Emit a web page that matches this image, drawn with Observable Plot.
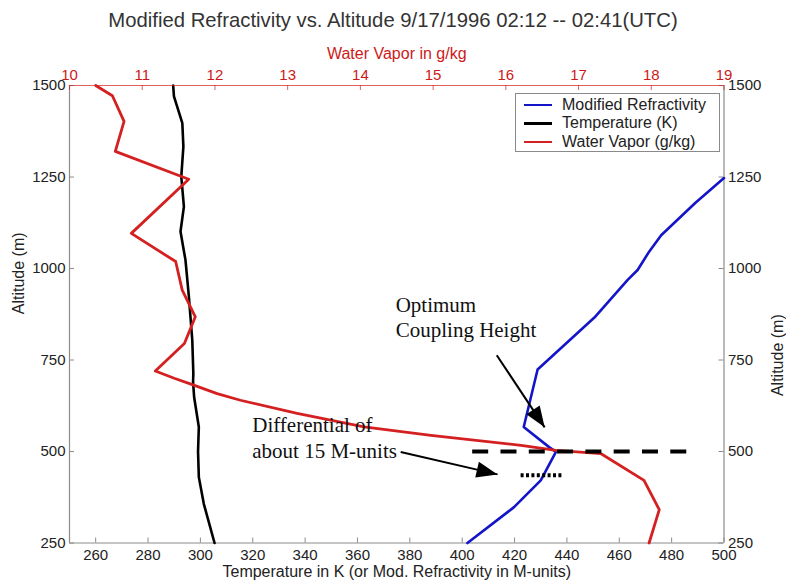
<!DOCTYPE html>
<html>
<head>
<meta charset="utf-8">
<script src="https://cdn.jsdelivr.net/npm/d3@7"></script>
<script src="https://cdn.jsdelivr.net/npm/@observablehq/plot@0.6"></script>
<style>
  html, body { margin: 0; padding: 0; background: #fff; }
  #chart { position: relative; width: 786px; height: 584px; font-family: "Liberation Sans", Arial, sans-serif; }
  #chart svg { position: absolute; left: 0; top: 0; }
  #title { position: absolute; left: 0; top: 8px; width: 786px; text-align: center; font-size: 20.3px; line-height: 24px; color: #333; }
  #legend { position: absolute; left: 515px; top: 93px; width: 205px; height: 59px; box-sizing: border-box;
            border: 1px solid #8a8a8a; background: #fff; font-size: 16px; color: #222; }
  #legend .row { position: absolute; left: 0; height: 18px; line-height: 18px; width: 100%; }
  #legend .swatch { position: absolute; left: 8px; top: 8px; width: 28px; height: 2.5px; }
  #legend .name { position: absolute; left: 46px; top: 0; white-space: nowrap; }
</style>
</head>
<body>
<div id="chart">
  <div id="title">Modified Refractivity vs. Altitude 9/17/1996 02:12 -- 02:41(UTC)</div>
</div>
<script>
// Axis ticks
const altitudeTicks = [250, 500, 750, 1000, 1250, 1500];
const kelvinTicks = [260, 280, 300, 320, 340, 360, 380, 400, 420, 440, 460, 480, 500];
const vaporTicks = [10, 11, 12, 13, 14, 15, 16, 17, 18, 19];

// Modified refractivity profile (M-units vs altitude in m)
const refractivityM   = [500, 489, 476, 471.4, 467, 463.2, 450.5, 428.8, 423.5, 433.2, 435.8, 430, 419.8, 402];
const refractivityAlt = [1247, 1179, 1091, 1046, 996, 969, 866, 724, 567, 512, 499, 421, 348, 250];

// Temperature profile (K vs altitude in m)
const temperatureK   = [289.6, 289.9, 293.1, 293.5, 292.7, 293.7, 292.4, 294.3, 295.6, 296.9, 297.3, 297.2, 297.6, 299.4, 299.1, 299.4, 301.3, 305.4];
const temperatureAlt = [1500, 1470, 1397, 1333, 1251, 1169, 1101, 1023, 923, 804, 713, 690, 649, 567, 500, 430, 357, 250];

// Water vapor mixing ratio (g/kg vs altitude in m)
const vaporGkg = [10.36, 10.59, 10.75, 10.63, 11.64, 10.85, 11.46, 11.55, 11.73, 11.58, 11.18, 11.44, 11.67, 12.03, 12.35, 13.13, 14.05, 14.97, 16.21, 16.69, 17.31, 17.9, 18.11, 17.97];
const vaporAlt = [1500, 1472, 1402, 1320, 1244, 1096, 1019, 941, 868, 795, 720, 700, 684, 658, 640, 604, 567, 544, 517, 503, 494, 421, 341, 250];

// Annotations (in M-units and altitude)
const couplingLevel = {alt: 500, m1: 404, m2: 486};
const differentialLevel = {alt: 435, m1: 422.5, m2: 439};
const noteM    = [374.6, 374.6, 319.8, 319.8];
const noteAlt  = [880, 812, 552, 483];
const noteText = ["Optimum", "Coupling Height", "Differential of", "about 15 M-units"];
const arrowFromM   = [413.2, 376.5];
const arrowFromAlt = [763, 498.6];
const arrowToM     = [431.5, 413.5];
const arrowToAlt   = [566, 437.5];

// Colors
const blue = "#1414c8";
const red = "#d42020";
const redText = "#cc1a1a";
const axisGray = "#8c8c8c";

// Shared frame
const W = 786, H = 584;
const mTop = 85, mBottom = 41.5, mLeft = 69, mRight = 62.5;
const plotW = W - mLeft - mRight, plotH = H - mTop - mBottom;
const frame = {
  width: W, height: H,
  marginTop: mTop, marginBottom: mBottom, marginLeft: mLeft, marginRight: mRight,
  style: {background: "transparent", fontFamily: "'Liberation Sans', Arial, sans-serif", fontSize: "15px", color: "#222", overflow: "visible"}
};
const mScales = {x: {domain: [250, 500], axis: null}, y: {domain: [250, 1500], axis: null}};
const plainNumber = d => `${d}`;

const refractivity = refractivityM.map((m, i) => ({m, alt: refractivityAlt[i]}));
const temperature = temperatureK.map((t, i) => ({t, alt: temperatureAlt[i]}));
const vapor = vaporGkg.map((w, i) => ({w, alt: vaporAlt[i]}));
const notes = noteText.map((text, i) => ({text, m: noteM[i], alt: noteAlt[i]}));
const arrows = arrowFromM.map((m, i) => ({x1: m, y1: arrowFromAlt[i], x2: arrowToM[i], y2: arrowToAlt[i]}));

// Main axes: temperature / M-units along the bottom, altitude left and right
const main = Plot.plot({
  ...frame,
  ...mScales,
  marks: [
    Plot.ruleX([250, 500], {stroke: axisGray, strokeWidth: 1.2}),
    Plot.ruleY([250], {stroke: axisGray, strokeWidth: 1.2}),
    Plot.tickX(kelvinTicks, {x: d => d, insetTop: plotH - 5, stroke: axisGray}),
    Plot.tickY(altitudeTicks, {y: d => d, insetRight: plotW - 5, stroke: axisGray}),
    Plot.tickY(altitudeTicks, {y: d => d, insetLeft: plotW - 5, stroke: axisGray}),
    Plot.axisX(kelvinTicks, {anchor: "bottom", tickSize: 0, tickPadding: 6, label: null, tickFormat: plainNumber}),
    Plot.axisY(altitudeTicks, {anchor: "left", tickSize: 0, tickPadding: 4, label: null, tickFormat: plainNumber}),
    Plot.axisY(altitudeTicks, {anchor: "right", tickSize: 0, tickPadding: 4, label: null, tickFormat: plainNumber}),
    Plot.text(["Altitude (m)"], {text: d => d, frameAnchor: "left", dx: -51, rotate: -90, fontSize: 16, fill: "#222"}),
    Plot.text(["Altitude (m)"], {text: d => d, frameAnchor: "right", dx: 54, rotate: -90, fontSize: 16, fill: "#222"}),
    Plot.text(["Temperature in K (or Mod. Refractivity in M-units)"], {text: d => d, frameAnchor: "bottom", dy: 34, fontSize: 16, fill: "#222"}),
    Plot.line(refractivity, {x: "m", y: "alt", stroke: blue, strokeWidth: 2.6}),
    Plot.line(temperature, {x: "t", y: "alt", stroke: "#000", strokeWidth: 2.6})
  ]
});

// Water vapor on its own top axis
const vaporChart = Plot.plot({
  ...frame,
  x: {domain: [10, 19], axis: null},
  y: {domain: [250, 1500], axis: null},
  marks: [
    Plot.ruleY([1500], {stroke: red, strokeWidth: 1.2, strokeOpacity: 0.7}),
    Plot.tickX(vaporTicks, {x: d => d, insetBottom: plotH - 5, stroke: red, strokeOpacity: 0.7}),
    Plot.axisX(vaporTicks, {anchor: "top", tickSize: 0, tickPadding: 6, label: null, color: redText, tickFormat: plainNumber}),
    Plot.text(["Water Vapor in g/kg"], {text: d => d, frameAnchor: "top", dy: -38, fontSize: 16, fill: redText}),
    Plot.line(vapor, {x: "w", y: "alt", stroke: red, strokeWidth: 2.8})
  ]
});

// Filled arrowhead symbol: tip at the origin, pointing up before rotation
const arrowHeadSymbol = {
  draw(context) {
    context.moveTo(0, 0);
    context.lineTo(-8, 21);
    context.lineTo(8, 21);
    context.closePath();
  }
};

// Pixel direction of each arrow
function pixelScale(chart, name) {
  const s = chart.scale(name);
  if (s && typeof s.apply === "function") return v => s.apply(v);
  return d3.scaleLinear(s.domain, s.range);
}
const px = pixelScale(main, "x"), py = pixelScale(main, "y");
arrows.forEach(a => {
  const dx = px(a.x2) - px(a.x1), dy = py(a.y2) - py(a.y1);
  a.angle = Math.atan2(dx, -dy) * 180 / Math.PI;
});

// Reference levels, arrows and notes in M-units
const notesChart = Plot.plot({
  ...frame,
  ...mScales,
  marks: [
    Plot.ruleY([couplingLevel], {y: "alt", x1: "m1", x2: "m2", stroke: "#000", strokeWidth: 4, strokeDasharray: "16,12.3"}),
    Plot.ruleY([differentialLevel], {y: "alt", x1: "m1", x2: "m2", stroke: "#000", strokeWidth: 4, strokeDasharray: "3,2.4"}),
    Plot.link(arrows, {x1: "x1", y1: "y1", x2: "x2", y2: "y2", stroke: "#000", strokeWidth: 2, strokeLinecap: "butt"}),
    Plot.dot(arrows, {x: "x2", y: "y2", rotate: "angle", symbol: arrowHeadSymbol, r: 5, fill: "#000", stroke: "none"}),
    Plot.text(notes, {x: "m", y: "alt", text: "text", textAnchor: "start", lineAnchor: "bottom",
      fontFamily: "'Liberation Serif', 'Times New Roman', serif", fontSize: 21, fill: "#111"})
  ]
});

const chart = document.getElementById("chart");
const title = document.getElementById("title");
chart.insertBefore(main, title);
chart.insertBefore(vaporChart, title);
chart.insertBefore(notesChart, title);

// Legend
const legend = document.createElement("div");
legend.id = "legend";
[["Modified Refractivity", blue], ["Temperature (K)", "#000"], ["Water Vapor (g/kg)", red]].forEach(([name, color], i) => {
  const row = document.createElement("div");
  row.className = "row";
  row.style.top = (1.6 + i * 18.5) + "px";
  const sw = document.createElement("div");
  sw.className = "swatch";
  sw.style.background = color;
  const label = document.createElement("div");
  label.className = "name";
  label.textContent = name;
  row.appendChild(sw);
  row.appendChild(label);
  legend.appendChild(row);
});
chart.appendChild(legend);
</script>
</body>
</html>
